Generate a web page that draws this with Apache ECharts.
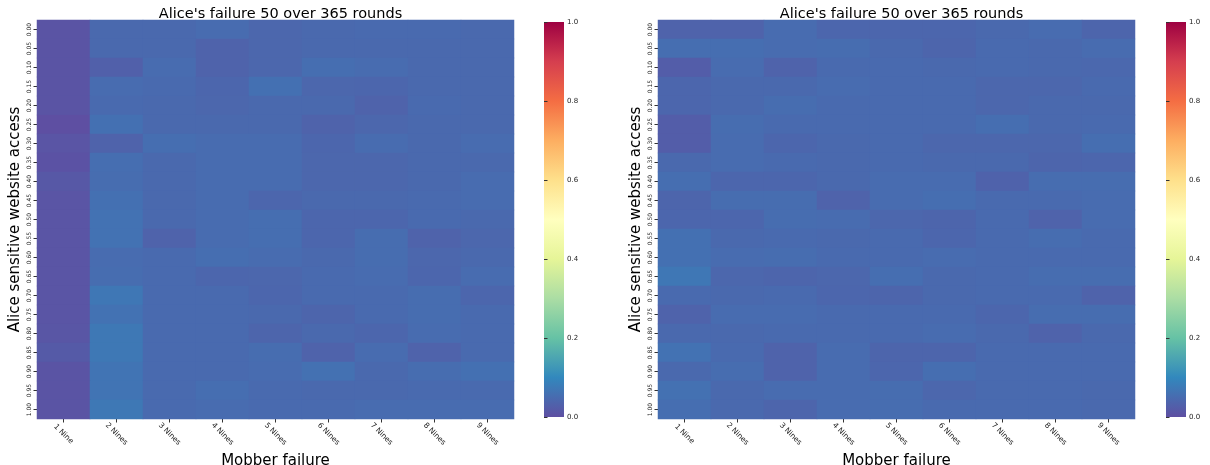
<!DOCTYPE html>
<html style="height: 100%">
<head>
    <meta charset="utf-8" />
    <title>Alice's failure heatmaps</title>
    <script type="text/javascript" src="https://cdn.jsdelivr.net/npm/echarts@6/dist/echarts.min.js"></script>
</head>
<body style="height: 100%; margin: 0; background: #fff">
    <div id="container" style="width: 1210px; height: 465px"></div>
</body>
</html>
<script type="text/javascript">
    // tick labels
    var mobberFailure = ['1 Nine', '2 Nines', '3 Nines', '4 Nines', '5 Nines', '6 Nines', '7 Nines', '8 Nines', '9 Nines'];
    var sensitiveAccess = ['0.00', '0.05', '0.10', '0.15', '0.20', '0.25', '0.30', '0.35', '0.40', '0.45', '0.50',
        '0.55', '0.60', '0.65', '0.70', '0.75', '0.80', '0.85', '0.90', '0.95', '1.00'];
    var colorbarTicks = [0, 0.2, 0.4, 0.6, 0.8, 1.0];

    // rows = sensitive access (top to bottom), columns = mobber failure
    var leftValues = [
        [0.008, 0.045, 0.045, 0.050, 0.042, 0.045, 0.048, 0.048, 0.045],
        [0.008, 0.045, 0.045, 0.035, 0.042, 0.045, 0.045, 0.045, 0.045],
        [0.008, 0.030, 0.050, 0.035, 0.042, 0.055, 0.050, 0.045, 0.045],
        [0.008, 0.050, 0.048, 0.040, 0.058, 0.042, 0.040, 0.045, 0.045],
        [0.008, 0.048, 0.045, 0.042, 0.045, 0.045, 0.035, 0.048, 0.045],
        [0.000, 0.058, 0.045, 0.045, 0.045, 0.035, 0.042, 0.045, 0.045],
        [0.010, 0.035, 0.055, 0.050, 0.050, 0.040, 0.050, 0.045, 0.050],
        [0.006, 0.055, 0.045, 0.050, 0.050, 0.042, 0.042, 0.045, 0.045],
        [0.015, 0.052, 0.045, 0.050, 0.050, 0.042, 0.042, 0.045, 0.050],
        [0.010, 0.058, 0.045, 0.050, 0.040, 0.045, 0.045, 0.048, 0.050],
        [0.010, 0.062, 0.045, 0.050, 0.055, 0.040, 0.040, 0.048, 0.045],
        [0.010, 0.062, 0.035, 0.050, 0.055, 0.040, 0.052, 0.035, 0.042],
        [0.010, 0.050, 0.048, 0.055, 0.050, 0.045, 0.052, 0.042, 0.045],
        [0.010, 0.052, 0.048, 0.040, 0.042, 0.047, 0.050, 0.040, 0.050],
        [0.010, 0.070, 0.048, 0.048, 0.040, 0.047, 0.047, 0.052, 0.040],
        [0.010, 0.062, 0.048, 0.048, 0.045, 0.038, 0.047, 0.052, 0.048],
        [0.012, 0.072, 0.048, 0.048, 0.038, 0.045, 0.040, 0.050, 0.048],
        [0.020, 0.072, 0.048, 0.048, 0.053, 0.035, 0.050, 0.035, 0.048],
        [0.008, 0.065, 0.048, 0.048, 0.050, 0.060, 0.045, 0.052, 0.058],
        [0.008, 0.065, 0.048, 0.055, 0.048, 0.045, 0.045, 0.048, 0.047],
        [0.008, 0.072, 0.048, 0.050, 0.048, 0.048, 0.050, 0.050, 0.050]
    ];
    var rightValues = [
        [0.035, 0.035, 0.050, 0.040, 0.040, 0.040, 0.045, 0.050, 0.038],
        [0.055, 0.055, 0.050, 0.052, 0.045, 0.038, 0.048, 0.045, 0.050],
        [0.025, 0.050, 0.035, 0.048, 0.048, 0.045, 0.048, 0.045, 0.043],
        [0.040, 0.045, 0.045, 0.050, 0.048, 0.048, 0.042, 0.042, 0.048],
        [0.040, 0.045, 0.052, 0.048, 0.048, 0.048, 0.042, 0.045, 0.045],
        [0.025, 0.052, 0.048, 0.048, 0.048, 0.048, 0.055, 0.045, 0.048],
        [0.025, 0.050, 0.040, 0.045, 0.048, 0.042, 0.042, 0.042, 0.055],
        [0.045, 0.050, 0.048, 0.045, 0.048, 0.045, 0.045, 0.038, 0.040],
        [0.055, 0.040, 0.040, 0.045, 0.050, 0.050, 0.033, 0.052, 0.052],
        [0.038, 0.052, 0.052, 0.035, 0.050, 0.055, 0.048, 0.048, 0.050],
        [0.040, 0.040, 0.052, 0.050, 0.042, 0.038, 0.048, 0.035, 0.050],
        [0.058, 0.045, 0.048, 0.045, 0.048, 0.040, 0.048, 0.052, 0.048],
        [0.058, 0.050, 0.052, 0.048, 0.048, 0.050, 0.047, 0.048, 0.048],
        [0.070, 0.042, 0.038, 0.042, 0.055, 0.045, 0.047, 0.052, 0.052],
        [0.048, 0.045, 0.048, 0.040, 0.038, 0.045, 0.047, 0.047, 0.035],
        [0.035, 0.050, 0.050, 0.047, 0.047, 0.047, 0.040, 0.052, 0.052],
        [0.045, 0.045, 0.047, 0.047, 0.047, 0.050, 0.045, 0.035, 0.045],
        [0.062, 0.048, 0.035, 0.050, 0.038, 0.038, 0.047, 0.048, 0.048],
        [0.045, 0.052, 0.035, 0.050, 0.040, 0.055, 0.047, 0.048, 0.048],
        [0.060, 0.045, 0.050, 0.050, 0.052, 0.042, 0.048, 0.048, 0.045],
        [0.055, 0.045, 0.038, 0.050, 0.052, 0.047, 0.047, 0.047, 0.045]
    ];

    // matplotlib Spectral_r
    var spectralR = ['#5e4fa2', '#3288bd', '#66c2a5', '#abdda4', '#e6f598', '#ffffbf',
        '#fee08b', '#fdae61', '#f46d43', '#d53e4f', '#9e0142'];

    var font = 'DejaVu Sans';
    // integer cell sizes (53 x 19) so the cells join without seams
    var panels = [
        { left: 37, width: 477, bar: 544, values: leftValues },
        { left: 658, width: 477, bar: 1166, values: rightValues }
    ];
    var gridTop = 20, gridHeight = 399;

    function toCells(rows) {
        var out = [];
        rows.forEach(function (row, y) {
            row.forEach(function (v, x) {
                out.push([x, y, v]);
            });
        });
        return out;
    }

    var gradientStops = spectralR.map(function (c, k) {
        return { offset: k / (spectralR.length - 1), color: c };
    });

    var option = {
        animation: false,
        title: [], grid: [], xAxis: [], yAxis: [], visualMap: [], series: [], graphic: []
    };

    panels.forEach(function (p, i) {
        option.title.push({
            text: "Alice's failure 50 over 365 rounds",
            left: p.left + p.width / 2, top: 2, textAlign: 'center',
            textStyle: { fontFamily: font, fontSize: 14.5, fontWeight: 'normal', color: '#000' }
        });
        // heatmap grid
        option.grid.push({ left: p.left, top: gridTop, width: p.width, height: gridHeight, outerBoundsMode: 'none' });
        // colorbar tick grid
        option.grid.push({ left: p.bar, top: gridTop + 2, width: 20, height: gridHeight - 4, outerBoundsMode: 'none' });

        option.xAxis.push({
            type: 'category', gridIndex: i * 2, data: mobberFailure,
            name: 'Mobber failure', nameLocation: 'middle', nameGap: 25,
            nameTextStyle: { fontFamily: font, fontSize: 15, color: '#000' },
            axisLine: { show: false }, splitLine: { show: false },
            axisTick: { show: true, alignWithLabel: true, length: 3.5, lineStyle: { color: '#333' } },
            axisLabel: { rotate: -45, align: 'center', verticalAlign: 'middle', margin: 15,
                fontFamily: font, fontSize: 7.5, color: '#222' }
        });
        option.yAxis.push({
            type: 'category', gridIndex: i * 2, data: sensitiveAccess, inverse: true,
            name: 'Alice sensitive website access', nameLocation: 'middle', nameGap: 14,
            nameTextStyle: { fontFamily: font, fontSize: 15, color: '#000' },
            axisLine: { show: false }, splitLine: { show: false },
            axisTick: { show: true, alignWithLabel: true, length: 3.5, lineStyle: { color: '#333' } },
            axisLabel: { rotate: 90, align: 'center', verticalAlign: 'bottom', margin: 5,
                fontFamily: font, fontSize: 6, color: '#222' }
        });

        option.xAxis.push({ type: 'value', gridIndex: i * 2 + 1, show: false });
        option.yAxis.push({
            type: 'value', gridIndex: i * 2 + 1, position: 'right',
            min: colorbarTicks[0], max: colorbarTicks[colorbarTicks.length - 1], interval: 0.2,
            axisLine: { show: false }, splitLine: { show: false },
            axisTick: { show: true, length: 3.5, lineStyle: { color: '#333' } },
            axisLabel: { margin: 3, fontFamily: font, fontSize: 7, color: '#222',
                formatter: function (v) { return v.toFixed(1); } }
        });

        option.visualMap.push({
            type: 'continuous', seriesIndex: i, min: 0, max: 1, show: false,
            inRange: { color: spectralR }
        });

        // colorbar drawn as a gradient strip behind the tick axis
        option.graphic.push({
            type: 'rect', left: p.bar, top: gridTop + 2, silent: true,
            shape: { width: 20, height: gridHeight - 4 },
            style: { fill: new echarts.graphic.LinearGradient(0, 1, 0, 0, gradientStops) }
        });

        option.series.push({
            type: 'heatmap', xAxisIndex: i * 2, yAxisIndex: i * 2,
            data: toCells(p.values),
            emphasis: { disabled: true }
        });
    });

    var myChart = echarts.init(document.getElementById('container'));
    myChart.setOption(option);
</script>
